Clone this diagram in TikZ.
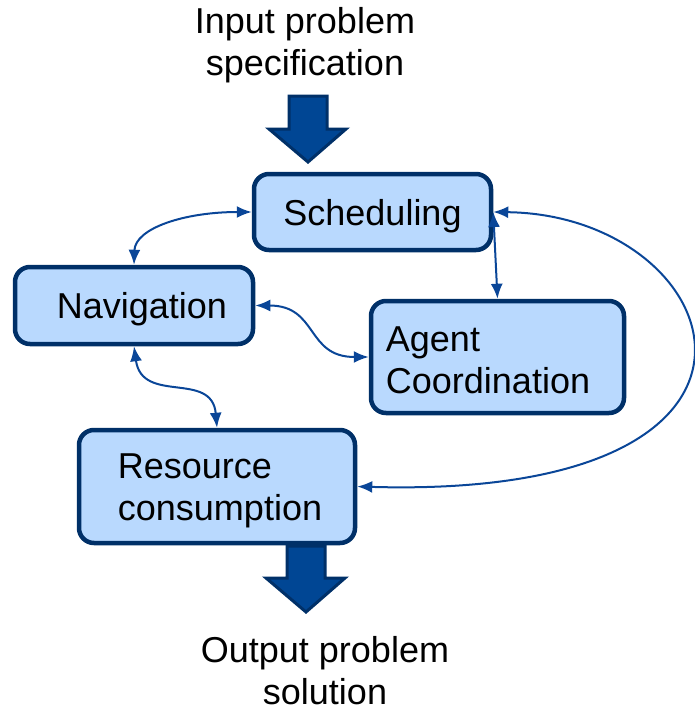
\documentclass[tikz,border=0pt]{standalone}
\usepackage{fontspec}
\setmainfont{Liberation Sans}
\usetikzlibrary{arrows.meta}
\definecolor{boxfill}{RGB}{185,217,254}
\definecolor{boxline}{RGB}{0,48,104}
\definecolor{bigfill}{RGB}{0,70,148}
\definecolor{linkblue}{RGB}{10,70,152}
\begin{document}
\begin{tikzpicture}[x=1pt, y=-1pt, font=\fontsize{36}{42}\selectfont,
	box/.style={draw=boxline, fill=boxfill, line width=4.5pt, rounded corners=15pt, inner sep=0pt},
	boxtext/.style={inner sep=0pt, align=left},
	link/.style={draw=linkblue, line width=2pt, {Latex[length=15pt,width=12pt]}-{Latex[length=15pt,width=12pt]}},
	bigarrow/.style={draw=boxline, fill=bigfill, line width=3pt, line join=miter}]
	\useasboundingbox (0,0) rectangle (695,712);
	%texts
	\node[align=center, inner sep=0pt] (input) at (305,45) {Input problem\\specification};
	\node[align=center, inner sep=0pt] (output) at (325,671) {Output problem\\solution};
	%boxes
	\node[box, minimum width=237pt, minimum height=76pt] (sched) at (372.5,212) {};
	\node[box, minimum width=238pt, minimum height=77pt] (nav) at (134,305.5) {};
	\node[box, minimum width=253pt, minimum height=112pt] (agent) at (497.5,357) {};
	\node[box, minimum width=276pt, minimum height=113pt] (res) at (217,486.5) {};
	%box texts
	\node[boxtext, yshift=-4pt] (schedtext) at (sched) {Scheduling};
	\node[boxtext, xshift=8pt, yshift=-4pt] (navtext) at (nav) {Navigation};
	\node[boxtext, anchor=west] (agenttext) at ([xshift=17pt, yshift=-3pt]agent.west) {Agent\\Coordination};
	\node[boxtext, anchor=west] (restext) at ([xshift=41pt, yshift=-4pt]res.west) {Resource\\consumption};
	%big arrows
	\draw[bigarrow] (289,96) -- (327,96) -- (327,129) -- (346,129) -- (308,162)
		-- (269,129) -- (289,129) -- cycle;
	\draw[bigarrow] (287,546) -- (325,546) -- (325,578) -- (345,578) -- (306,612)
		-- (266,578) -- (287,578) -- cycle;
	%links
	\draw[link] (sched.west) .. controls (185,212) and (135,228) .. (nav.north);
	\draw[link] (nav.east) to[out=0, in=180, looseness=1.3] (agent.west);
	\draw[link] (nav.south) .. controls (142,405) and (212,370) .. (res.north);
	\draw[link] (sched.east) -- (agent.north);
	\draw[link] (sched.east) .. controls (730,215) and (830,500) .. (res.east);
\end{tikzpicture}
\end{document}
